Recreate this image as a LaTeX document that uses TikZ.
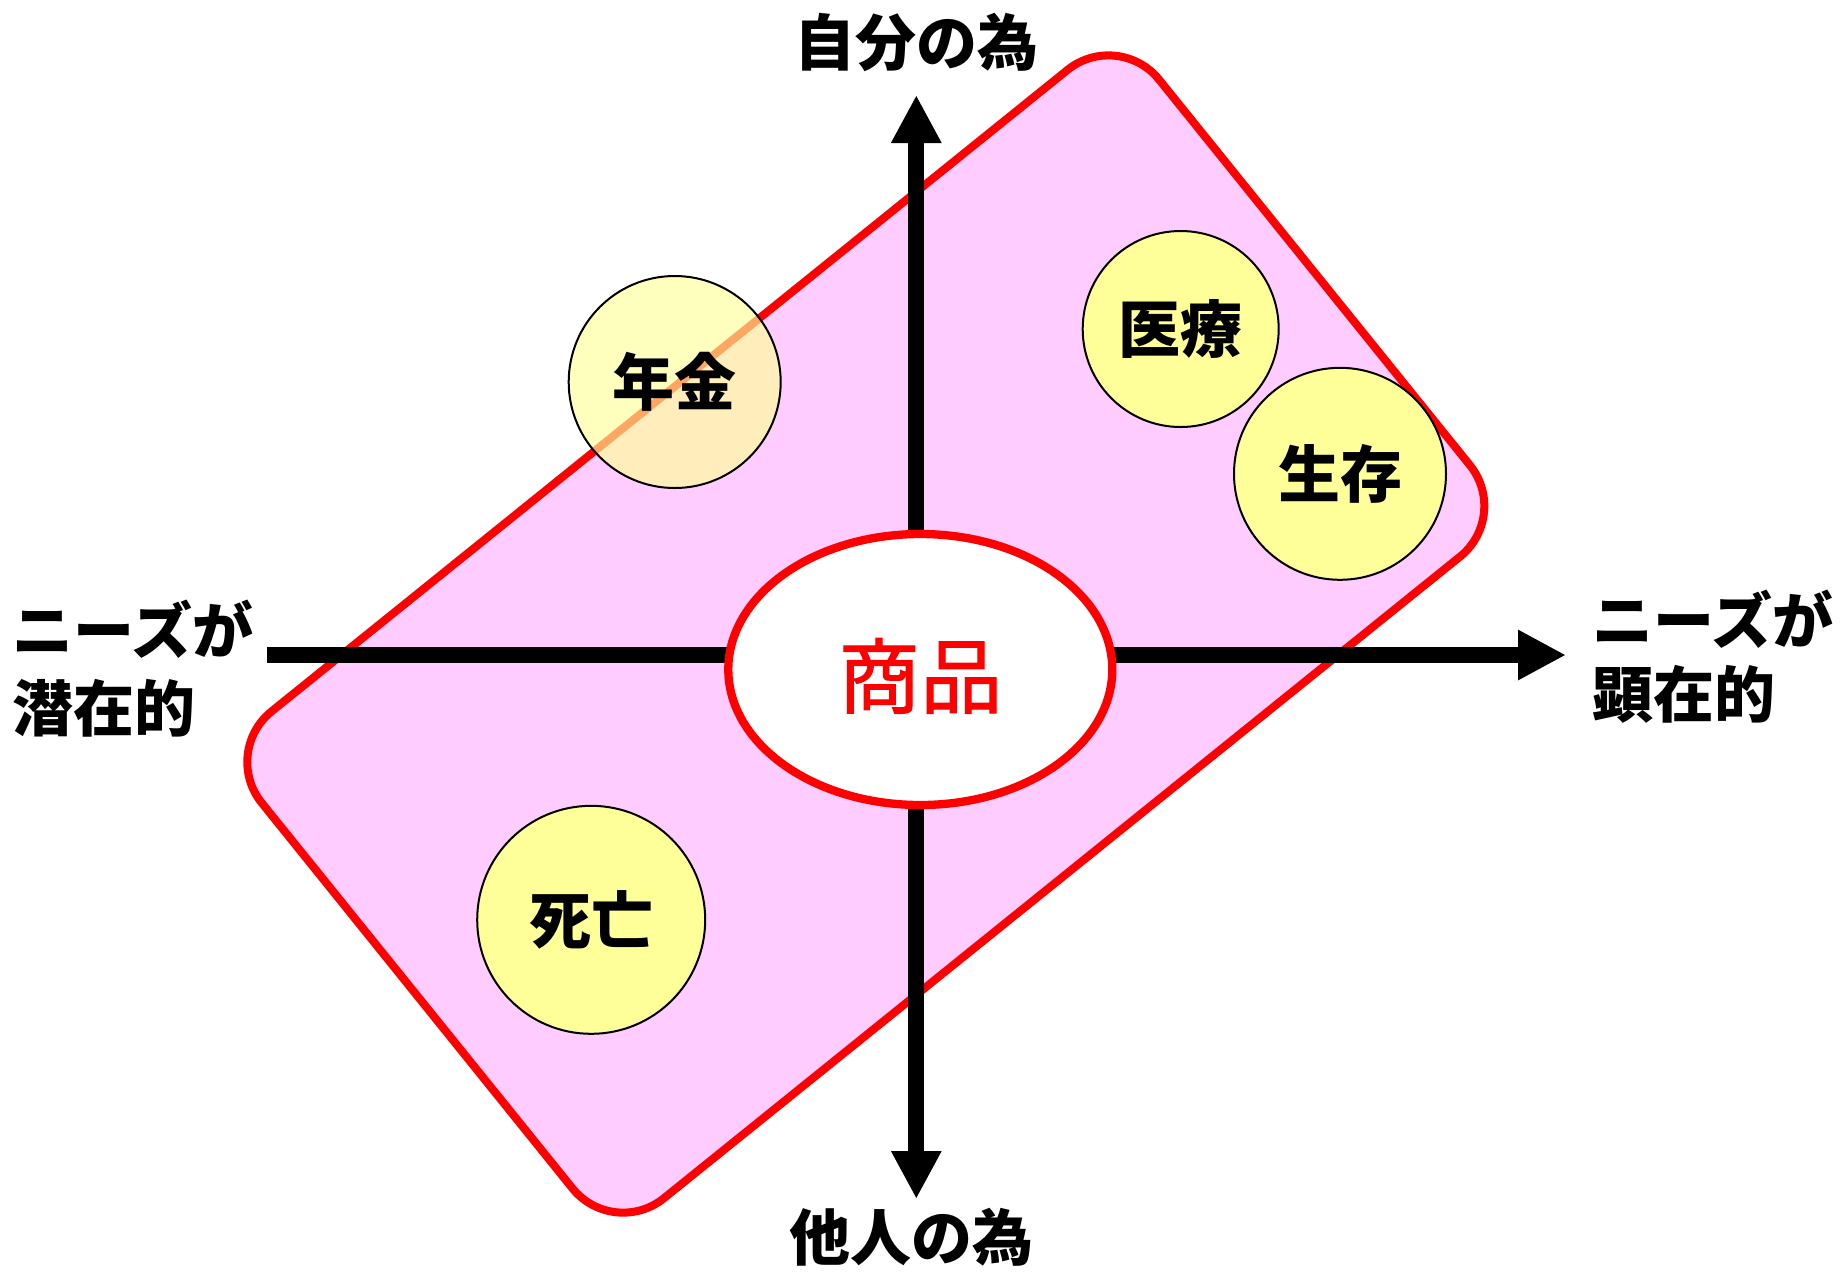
\documentclass[tikz,border=0pt]{standalone}
\usepackage{fontspec}
\newfontfamily\jp{Noto Sans CJK JP}
\newfontfamily\jpmed{Noto Sans CJK JP}[FakeBold=1.2]
\usetikzlibrary{arrows.meta,shapes.geometric}
\definecolor{pinkfill}{HTML}{FFCCFF}
\definecolor{ylw}{HTML}{FFFF99}
\definecolor{pred}{HTML}{FF0000}
\begin{document}
\begin{tikzpicture}[x=0.5pt,y=-0.5pt,
  bubble/.style={circle, draw=black, line width=1pt, fill=ylw, inner sep=0pt,
    font=\jp\bfseries\fontsize{31pt}{31pt}\selectfont},
  axislabel/.style={inner sep=0pt, font=\jp\bfseries\fontsize{30.5pt}{39pt}\selectfont},
  axisbar/.style={line width=8pt, draw=black},
  bigtip/.tip={Triangle[width=23.5pt,length=24pt]},
  product/.style={ellipse, draw=pred, line width=4.15pt, fill=white, inner sep=0pt,
    minimum width=192pt, minimum height=135.5pt, text=pred,
    text height=42.5pt, text depth=5pt,
    font=\jpmed\fontsize{41pt}{41pt}\selectfont}
]
\useasboundingbox (0,0) rectangle (1843,1271);

% rotated rounded rectangle
\draw[line width=4pt, draw=pred, fill=pinkfill, rounded corners=32.5pt]
  (669.6,390.6) -- (1118.3,29) -- (1510.7,515.8) -- (613.3,1239) -- (220.9,752.2) -- cycle;

% axes
\coordinate (xl) at (267,655);
\coordinate (xr) at (1566,655);
\coordinate (yt) at (916.3,95);
\coordinate (yb) at (916.3,1199);
\draw[axisbar, -bigtip] (xl) -- (xr);
\draw[axisbar, bigtip-bigtip] (yb) -- (yt);

% product ellipse
\node[product] (prod) at (920.3,669.5) {商品};

% circles
\node[bubble, minimum size=106pt, fill opacity=0.65, text opacity=1] (nenkin) at (674.7,382) {年金};
\node[bubble, minimum size=98pt] (iryo) at (1180.7,329) {医療};
\node[bubble, minimum size=106pt] (seizon) at (1340,473.8) {生存};
\node[bubble, minimum size=114pt] (shibo) at (591.2,919.8) {死亡};

% axis labels
\node[axislabel] (self) at (916,42) {自分の為};
\node[axislabel] (others) at (911,1237) {他人の為};
\node[axislabel, anchor=west, align=left] (latent) at (12,669) {ニーズが\\潜在的};
\node[axislabel, anchor=west, align=left,
  font=\jp\bfseries\fontsize{30.5pt}{37pt}\selectfont] (manifest) at (1592,656.5) {ニーズが\\顕在的};
\end{tikzpicture}
\end{document}
